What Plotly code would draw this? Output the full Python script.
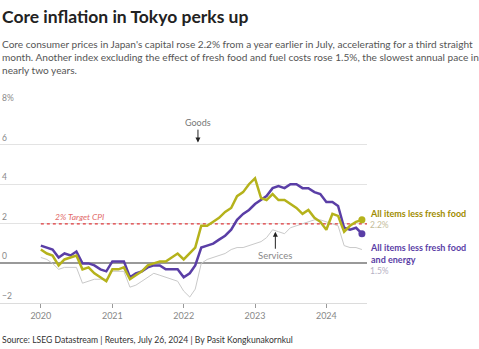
import plotly.graph_objects as go
import pandas as pd

dates = pd.date_range("2020-01-01", "2024-07-01", freq="MS").strftime("%Y-%m-%d").tolist()

# All items less fresh food (y/y %)
core = [0.7, 0.5, 0.4, -0.1, 0.2, 0.3, 0.4, -0.3, -0.2, -0.5, -0.7, -0.9,
        -0.3, -0.3, -0.2, -0.8, -0.6, -0.4, -0.1, 0.0, 0.1, 0.1, 0.3, 0.5,
        0.2, 0.5, 0.8, 1.9, 1.9, 2.1, 2.3, 2.6, 2.8, 3.4, 3.6, 4.0,
        4.3, 3.3, 3.2, 3.5, 3.2, 3.2, 3.0, 2.8, 2.5, 2.7, 2.3, 2.1,
        1.7, 2.5, 2.4, 1.6, 1.9, 2.1, 2.2]

# All items less fresh food and energy
core_core = [0.9, 0.8, 0.7, 0.3, 0.5, 0.4, 0.6, 0.0, 0.0, -0.1, -0.3, -0.4,
             0.1, 0.1, 0.1, -0.7, -0.5, -0.4, -0.2, -0.1, -0.1, -0.3, -0.3, -0.3,
             -0.7, -0.5, -0.1, 0.8, 0.9, 1.0, 1.2, 1.4, 1.7, 2.2, 2.5, 2.7,
             3.0, 3.2, 3.4, 3.8, 3.9, 3.8, 4.0, 4.0, 3.8, 3.8, 3.6, 3.5,
             3.1, 3.1, 2.9, 1.8, 1.7, 1.8, 1.5]

# Services
services = [0.3, 0.2, 0.0, -0.3, -0.2, -0.2, -0.2, -1.0, -0.9, -0.8, -0.8, -0.8,
            -0.4, -0.4, -0.4, -1.2, -1.1, -0.9, -0.7, -0.5, -0.6, -0.7, -0.8, -0.9,
            -1.4, -1.7, -1.3, 0.0, 0.2, 0.3, 0.4, 0.5, 0.7, 0.8, 0.8, 0.9,
            1.0, 1.1, 1.3, 1.7, 1.6, 1.5, 1.8, 1.9, 2.0, 2.1, 2.2, 2.2,
            2.1, 2.0, 1.9, 0.9, 0.8, 0.8, 0.7]

year_ticks = ["2020-01-01", "2021-01-01", "2022-01-01", "2023-01-01", "2024-01-01"]
year_labels = ["2020", "2021", "2022", "2023", "2024"]
y_ticks = [-2, 0, 2, 4, 6, 8]
y_labels = ["\u22122", "0", "2", "4", "6", "8%"]
target = 2

YELLOW = "#b5b21b"
YELLOW_TXT = "#a08c00"
PURPLE = "#5a3ea6"
GRAY = "#c9c9c9"

W, H = 479, 349
T, B = 105, 46
PH = H - T - B


def py(pix):
    return (H - B - pix) / PH


fig = go.Figure()
fig.add_trace(go.Scatter(x=dates, y=services, mode="lines",
                         line=dict(color=GRAY, width=1), hoverinfo="skip"))
fig.add_trace(go.Scatter(x=[dates[0], "2024-07-27"], y=[target, target], mode="lines",
                         line=dict(color="#e0393b", width=1.3, dash="dot"), hoverinfo="skip"))
fig.add_trace(go.Scatter(x=dates, y=core_core, mode="lines",
                         line=dict(color=PURPLE, width=2.5), hoverinfo="skip"))
fig.add_trace(go.Scatter(x=dates, y=core, mode="lines",
                         line=dict(color=YELLOW, width=2.5), hoverinfo="skip"))
fig.add_trace(go.Scatter(x=[dates[-1]], y=[core_core[-1]], mode="markers",
                         marker=dict(color=PURPLE, size=7), hoverinfo="skip"))
fig.add_trace(go.Scatter(x=[dates[-1]], y=[core[-1]], mode="markers",
                         marker=dict(color=YELLOW, size=7), hoverinfo="skip"))

FONT = "Lato"
ann = []
ann.append(dict(text="<b>Core inflation in Tokyo perks up</b>", x=0, y=py(16), xref="paper", yref="paper",
                xanchor="left", yanchor="middle", showarrow=False,
                font=dict(family=FONT, size=17.5, color="#222")))
ann.append(dict(text="Core consumer prices in Japan's capital rose 2.2% from a year earlier in July, accelerating for a third straight<br>"
                     "month. Another index excluding the effect of fresh food and fuel costs rose 1.5%, the slowest annual pace in<br>"
                     "nearly two years.",
                x=0, y=py(36), xref="paper", yref="paper", xanchor="left", yanchor="top", align="left",
                showarrow=False, font=dict(family=FONT, size=10.1, color="#555")))
for v, t in zip(y_ticks, y_labels):
    ann.append(dict(text=t, x=0, y=v, xref="paper", yref="y", xanchor="left", yanchor="bottom",
                    yshift=0, showarrow=False, font=dict(family=FONT, size=8.5, color="#888")))
ann.append(dict(text="<i>2% Target CPI</i>", x="2020-03-01", y=target, xref="x", yref="y",
                xanchor="left", yanchor="bottom", showarrow=False,
                font=dict(family=FONT, size=8.5, color="#e26b6b")))
ann.append(dict(text="Goods", x="2022-03-15", y=6.1, xref="x", yref="y", ax=0, ay=-20,
                showarrow=True, arrowhead=2, arrowsize=1, arrowwidth=1, arrowcolor="#222",
                font=dict(family=FONT, size=9, color="#777"), standoff=0))
ann.append(dict(text="Services", x="2023-04-15", y=1.6, xref="x", yref="y", ax=0, ay=24,
                showarrow=True, arrowhead=2, arrowsize=1, arrowwidth=1, arrowcolor="#222",
                font=dict(family=FONT, size=9.5, color="#888"), standoff=0))
ann.append(dict(text="<b>All items less fresh food</b>", x=1, xshift=1, y=py(213), xref="paper", yref="paper",
                xanchor="left", yanchor="middle", showarrow=False,
                font=dict(family=FONT, size=9, color=YELLOW_TXT)))
ann.append(dict(text="2.2%", x=1, xshift=1, y=py(225), xref="paper", yref="paper",
                xanchor="left", yanchor="middle", showarrow=False,
                font=dict(family=FONT, size=8.5, color="#c4bd9a")))
ann.append(dict(text="<b>All items less fresh food<br>and energy</b>", x=1, xshift=1, y=py(253.5), xref="paper", yref="paper",
                xanchor="left", yanchor="middle", align="left", showarrow=False,
                font=dict(family=FONT, size=9, color=PURPLE)))
ann.append(dict(text="1.5%", x=1, xshift=1, y=py(271), xref="paper", yref="paper",
                xanchor="left", yanchor="middle", showarrow=False,
                font=dict(family=FONT, size=8.5, color="#b5b0c4")))
ann.append(dict(text="Source: LSEG Datastream | Reuters, July 26, 2024 | By Pasit Kongkunakornkul", x=0, y=py(340),
                xref="paper", yref="paper", xanchor="left", yanchor="middle", showarrow=False,
                font=dict(family=FONT, size=8.6, color="#333")))

fig.update_layout(
    width=W, height=H, margin=dict(l=0, r=112, t=T, b=B),
    paper_bgcolor="white", plot_bgcolor="white", showlegend=False,
    annotations=ann,
    xaxis=dict(type="date", range=["2019-06-06", "2024-07-27"], tickvals=year_ticks, ticktext=year_labels,
               ticks="outside", ticklen=4, tickcolor="#999", showgrid=False, showline=True,
               linecolor="#dcdcdc", linewidth=1,
               zeroline=False, tickfont=dict(family=FONT, size=9, color="#888")),
    yaxis=dict(range=[-2, 8], tickvals=y_ticks, showticklabels=False, gridcolor="#e3e3e3",
               gridwidth=1, zeroline=True, zerolinecolor="#999", zerolinewidth=1.6, ticks=""),
)
fig.write_html("out.html")
